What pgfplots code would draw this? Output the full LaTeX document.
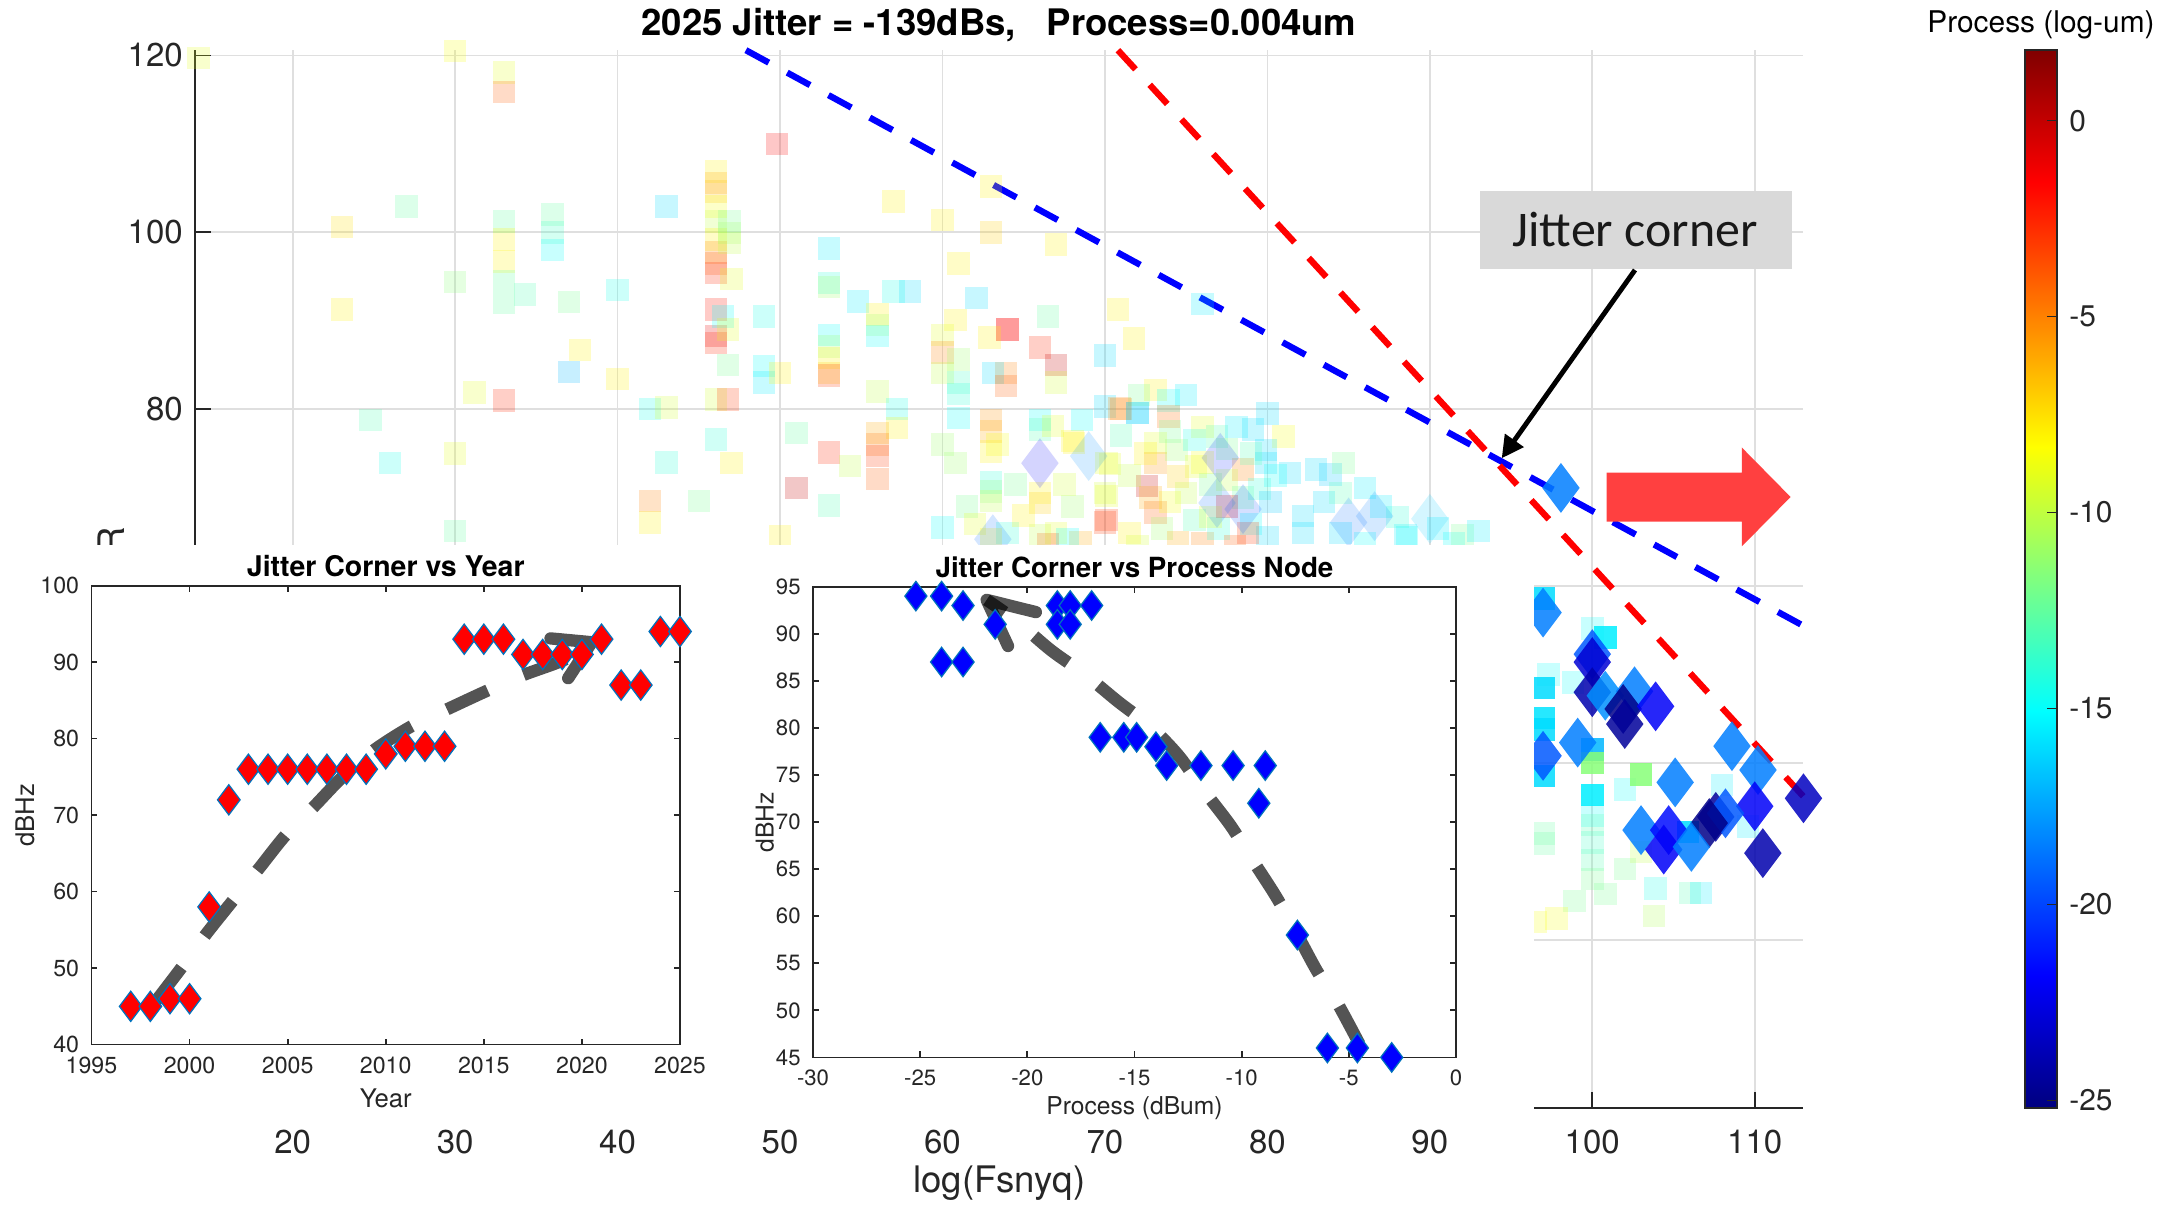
\documentclass[border=0pt]{standalone}
\usepackage{fontspec}
\setmainfont{TeX Gyre Heros}
\newfontfamily\calibri{Carlito}
\usepackage{pgfplots}
\pgfplotsset{compat=1.18}
\usetikzlibrary{arrows.meta}

\definecolor{axgray}{RGB}{38,38,38}
\definecolor{gridgray}{RGB}{223,223,223}
\definecolor{mkedge}{RGB}{0,114,189}
\definecolor{boxgray}{RGB}{217,217,217}
\definecolor{arrowred}{RGB}{255,64,64}

\newcommand{\fs}[1]{\fontsize{#1}{#1}\selectfont}

\pgfplotsset{
  /pgf/number format/assume math mode=true,
  every axis title shift=0pt,
  inset/.style={
    scale only axis, anchor=south west, clip=false,
    tick align=inside, major tick length=0.06cm,
    axis line style={draw=axgray, line width=0.5pt},
    tick style={draw=axgray, line width=0.5pt},
    tick label style={font=\fs{6.6}, text=axgray},
    label style={font=\fs{7.3}, text=axgray},
    title style={font=\bfseries\fs{8.1}, anchor=center},
  },
  faint/.style={scatter, only marks, point meta=explicit,
    scatter/use mapped color={draw=mapped color, fill=mapped color},
    mark options={fill opacity=0.22, draw opacity=0}},
  strong/.style={scatter, only marks, point meta=explicit,
    scatter/use mapped color={draw=mapped color, fill=mapped color},
    mark options={fill opacity=0.85, draw opacity=0}},
  trend/.style={black, opacity=0.67, line width=3.5pt, smooth},
}

\begin{document}
\begin{tikzpicture}
\useasboundingbox (0,0) rectangle (21.75,12.06);

% main scatter of all designs
\begin{axis}[
  at={(1.952cm,0.982cm)}, anchor=south west, scale only axis,
  width=16.083cm, height=10.576cm,
  xmin=14, xmax=113, ymin=1, ymax=120.6,
  axis x line*=bottom, axis y line*=left,
  axis line style={-, draw=axgray, line width=0.5pt},
  xtick={20,30,...,110}, ytick={20,40,...,120},
  tick align=inside, major tick length=0.16cm,
  tick style={draw=axgray, line width=0.5pt},
  grid=major, major grid style={draw=gridgray, line width=0.5pt},
  tick label style={font=\fs{9.4}, text=axgray},
  xticklabel style={yshift=-0.1cm},
  xlabel={log(Fsnyq)}, ylabel={SNDR},
  label style={font=\fs{10.4}, text=axgray},
  xlabel style={at={(axis description cs:0.5,-0.071)}, anchor=center},
  ylabel style={at={(axis description cs:-0.0525,0.5)}, anchor=center},
  clip=false,
  colormap/jet, point meta min=-25.2, point meta max=1.8,
  colorbar, colorbar shift/.style={xshift=2.215cm},
  colorbar style={at={(parent axis.north east)}, anchor=north west, width=0.32cm,
    ytick={-25,-20,...,0}, ytick pos=right, tick align=inside, major tick length=0.1cm,
    tick label style={font=\fs{8.5}, text=axgray}, xticklabel style={yshift=0cm},
    axis line style={draw=axgray, line width=0.5pt}, tick style={draw=axgray}},
]
\addplot[blue, line width=1.8pt, dash pattern=on 0.26cm off 0.21cm] coordinates {(47.9,120.6) (113,55.5)};
\addplot[red, line width=1.8pt, dash pattern=on 0.26cm off 0.21cm] coordinates {(70.8,120.6) (113,36.2)};

\addplot[faint, mark=square*, mark size=3.2pt] table[meta=c] {
x y c
14.2 119.7 -9
30.0 120.5 -8.5
33.0 118.1 -9
33.0 115.9 -4
27.0 102.9 -12.5
23.05 100.6 -7.5
33.0 101.2 -12.5
33.0 99.2 -8
33.0 96.7 -8
33.0 94.5 -12.5
33.0 92.0 -12.5
36.0 102.0 -12.5
36.0 100.0 -13.5
36.0 98.0 -15
43.0 102.9 -16
30.0 94.4 -11.5
34.3 93.0 -13
37.0 92.1 -12
40.0 93.5 -14.5
23.05 91.3 -8
37.7 86.7 -8
37.0 84.2 -17
40.0 83.4 -8
31.2 81.9 -9
33.0 81.0 -2.5
24.8 78.8 -13
42.0 80.0 -14.5
43.0 80.2 -9.5
26.0 73.9 -14.5
30.0 75.0 -9
43.0 74.0 -14
42.0 69.6 -5
42.0 67.2 -8
30.0 66.2 -12.5
49.8 110.0 -1.5
46.06 106.9 -8
46.06 105.6 -6
46.06 104.6 -6.5
46.06 102.9 -8.5
46.06 101.2 -10
46.06 99.2 -8
46.06 97.7 -5
46.06 96.5 -4
46.06 95.4 -2.5
46.06 91.3 -2
46.06 88.3 -1
46.06 87.5 -2.5
46.06 81.1 -9.5
46.06 76.6 -14
46.9 101.2 -12
46.9 99.9 -11
46.9 98.8 -10
47.0 94.7 -9
46.5 90.5 -15
46.8 89.0 -9
46.8 85.0 -12
46.8 81.1 -3
47.0 73.9 -8
53.0 98.2 -15.5
53.0 94.3 -14
53.0 93.8 -11
54.8 92.2 -15.5
49.0 90.5 -14.5
57.0 103.5 -8
57.0 93.3 -14.5
58.0 93.3 -16
60.0 101.4 -8
63.0 105.2 -8
63.0 100.0 -7
67.0 98.6 -8
61.0 96.5 -8
62.1 92.6 -16
56.0 90.7 -8
56.0 89.5 -11
56.0 88.3 -15
53.0 88.4 -15
53.0 87.1 -11
53.0 85.8 -8
53.0 84.1 -7
53.0 83.8 -3
49.0 84.9 -15
49.0 83.0 -15.5
50.0 84.1 -8
60.8 90.1 -8
60.0 88.4 -9
60.0 86.4 -5
60.0 84.1 -10
61.0 85.6 -11
61.0 83.0 -13.5
61.0 81.7 -14
64.0 89.0 -1.5
64.0 89.0 -1.5
62.9 88.1 -8
66.0 87.0 -2.5
67.0 85.0 0
67.0 83.0 -9.5
66.5 90.5 -12.5
70.8 91.3 -8
71.8 88.0 -8
70.0 86.1 -16
63.9 84.1 -5
63.1 84.1 -16
63.9 82.6 -4
56.0 82.0 -10
57.2 80.0 -14.5
57.2 77.9 -8
56.0 77.3 -6
56.0 76.0 -4.5
56.0 74.7 -3
56.0 72.1 -4
51.0 77.3 -12.5
53.0 75.1 -2.5
54.3 73.6 -10
51.0 71.1 0
53.0 69.1 -13
45.0 69.6 -12
50.0 65.6 -8
61.0 79.0 -15
60.0 76.0 -11
60.8 73.9 -11
63.0 78.8 -5.5
63.0 77.5 -6
63.4 76.0 -8.5
63.0 75.2 -8
63.0 71.7 -14
63.0 70.7 -11.5
63.0 69.6 -10
60.0 66.6 -15
66.0 78.8 -15
66.0 77.7 -13
66.8 78.1 -9
66.0 70.5 -8
66.0 69.4 -7
70.0 80.3 -16
70.9 80.1 -5
72.0 79.6 -15.5
68.1 76.2 -8
70.3 73.8 -9
70.0 70.5 -9.5
70.0 67.2 -3
76.0 91.9 -15.5
73.1 82.2 -8
72.1 81.6 -12
75.0 81.6 -15.5
73.9 81.0 -15
71.0 80.0 -5
72.0 79.6 -17
73.9 79.2 -4.5
68.6 78.8 -15
68.0 76.4 -8
76.0 78.0 -9
76.9 76.9 -13
78.1 78.0 -15.5
79.1 77.7 -16
80.0 79.5 -16
81.0 76.9 -8.5
73.1 76.2 -9
73.1 73.9 -5.5
72.6 71.3 0
73.1 68.3 -4
74.4 75.4 -11
74.5 72.4 -7
75.6 73.5 -9
78.5 73.2 -5
79.9 73.9 -16
79.9 75.4 -16
70.1 73.9 -9
70.1 70.2 -9
70.1 67.5 -3
81.4 72.8 -16
83.0 73.2 -16
83.9 72.6 -16.5
84.7 73.9 -12
86.0 71.1 -15.5
82.2 67.9 -16
82.2 66.0 -16
88.5 65.7 -15.5
71.5 66.0 -8
72.0 64.5 -9.5
73.5 66.5 -11
74.0 69.5 -8.5
74.5 65.0 -6
75.0 70.5 -10
75.5 67.5 -13
76.0 64.8 -5
76.5 71.5 -12
77.0 66.5 -14
77.5 72.0 -10
78.0 64.5 -4
78.5 70.0 -12.5
79.0 67.0 -15
79.5 71.0 -14
80.0 65.5 -16
80.2 69.5 -16.5
80.5 72.5 -15
79.0 75.0 -13
77.5 75.5 -12
76.0 74.0 -8.5
74.0 77.5 -12
72.5 75.0 -8
71.0 77.0 -13
71.5 72.5 -10
72.8 70.0 -6
75.5 76.5 -14.5
77.5 69.0 -1
78.8 66.0 -3
76.5 67.8 -9
61.5 69.0 -12
62.0 67.0 -9
64.0 66.0 -14
65.0 68.0 -8
67.0 66.0 -9
68.0 69.0 -11
68.5 65.0 -6
66.5 64.7 -3
64.5 71.5 -12
67.5 71.5 -9.5
63.0 65.3 -8
66.0 65.7 -10
67.7 65.3 -15
83.5 69.5 -16
84.5 66.0 -16
86.0 64.8 -15
87.0 69.0 -15.5
88.0 67.8 -14
90.5 66.5 -15.5
91.5 64.8 -15
92.0 65.7 -12
93.0 66.2 -15.5
88.6 65.5 -15
84.5 70.5 -13
100.0 55.2 -15
97.3 50.0 -15
98.8 49.1 -15
102.0 37.0 -15
108.0 37.5 -15.5
100.0 34.0 -15
97.0 32.0 -12.5
97.0 30.9 -12.5
109.6 32.8 -15.5
100.0 33.0 -13
100.0 31.0 -13.5
100.0 29.0 -13
100.0 26.9 -12
100.8 25.2 -12
98.9 24.4 -12
97.8 22.4 -8.5
96.5 22.0 -8.5
102.0 28.0 -12
103.9 25.8 -14.5
103.8 22.7 -10.5
106.0 25.3 -13
106.7 25.3 -15.5
103.0 29.9 -10
};
\addplot[scatter, only marks, point meta=explicit,
  scatter/use mapped color={draw=mapped color, fill=mapped color},
  mark options={fill opacity=0.17, draw opacity=0},
  mark=diamond*, mark size=7.1pt] table[meta=c] {
x y c
66.0 73.9 -22
69.0 74.7 -18
63.1 65.3 -19
77.1 74.5 -21
78.5 68.7 -20
76.9 69.4 -19
85.0 67.2 -19
86.6 67.9 -18.5
90.0 67.6 -16.5
};
\addplot[strong, mark=square*, mark size=3.2pt] table[meta=c] {
x y c
97.0 58.6 -16
100.8 54.2 -15.5
97.0 48.5 -16
97.0 45.1 -15.8
97.0 43.8 -16
100.0 41.5 -17
100.0 40.0 -11.5
103.0 38.7 -11.5
100.0 36.4 -15.5
97.0 38.5 -16
105.9 32.2 -16
};
\addplot[strong, mark=diamond*, mark size=7.1pt] table[meta=c] {
x y c
98.07 71.1 -18.5
96.97 57.0 -18.5
100.0 52.3 -19.5
100.0 51.4 -23
100.0 48.0 -24
100.8 47.6 -18
102.6 48.1 -18.5
101.9 46.1 -25
102.0 44.4 -24.5
103.9 46.4 -22
99.1 42.3 -18.5
96.97 40.8 -19.5
105.1 37.8 -18.5
108.6 41.9 -18.5
110.2 39.2 -18.5
113.0 36.0 -23.5
110.0 35.1 -22
107.6 33.9 -24.5
108.2 34.3 -19.5
107.2 33.2 -25
103.0 32.4 -18.5
104.7 32.4 -21.5
104.4 30.2 -22
106.1 30.5 -18.5
110.5 29.8 -24
};
\end{axis}

% white panel behind the two insets
\fill[white] (0,0.88) rectangle (15.34,6.61);

% inset: jitter corner vs year
\begin{axis}[inset,
  at={(0.915cm,1.614cm)}, width=5.885cm, height=4.59cm,
  xmin=1995, xmax=2025, ymin=40, ymax=100,
  xtick={1995,2000,...,2025}, ytick={40,50,...,100},
  xticklabel style={/pgf/number format/1000 sep={}},
  title={Jitter Corner vs Year}, title style={at={(0.5,1.0425)}},
  xlabel={Year}, ylabel={dBHz},
  xlabel style={at={(axis description cs:0.5,-0.1176)}, anchor=center},
  ylabel style={at={(axis description cs:-0.113,0.5)}, anchor=center},
]
\addplot[only marks, mark=diamond*, mark size=4.3pt,
  mark options={fill=red, draw=mkedge, line width=0.35pt}] coordinates {
(1997,45) (1998,45) (1999,46) (2000,46) (2001,58) (2002,72) (2003,76) (2004,76)
(2005,76) (2006,76) (2007,76) (2008,76) (2009,76) (2010,78) (2011,79) (2012,79)
(2013,79) (2014,93) (2015,93) (2016,93) (2017,91) (2018,91) (2019,91) (2020,91)
(2021,93) (2022,87) (2023,87) (2024,94) (2025,94)};
\addplot[trend, dash pattern=on 0.45cm off 0.39cm] coordinates {
(1998.2,45.4) (1999.6,50.1) (2000.8,54.3) (2002.2,58.8) (2003.5,62.9) (2004.9,67.4)
(2006.3,71.0) (2007.8,75.0) (2009.4,78.5) (2011.3,81.6) (2013.1,83.8) (2015.2,86.3)
(2017.0,88.3) (2019.1,90.3) (2020.5,92.5)};
\addplot[black, opacity=0.67, line width=3.5pt, line cap=round, line join=round] coordinates {
(2018.4,93.1) (2020.5,92.6) (2019.3,87.9)};
\end{axis}

% inset: jitter corner vs process node
\begin{axis}[inset,
  at={(8.13cm,1.486cm)}, width=6.43cm, height=4.707cm,
  xmin=-30, xmax=0, ymin=45, ymax=95,
  xtick={-30,-25,...,0}, ytick={45,50,...,95},
  tick label style={font=\fs{6.3}},
  label style={font=\fs{7.0}},
  title={Jitter Corner vs Process Node}, title style={at={(0.5,1.0406)}, font=\bfseries\fs{7.9}},
  xlabel={Process (dBum)}, ylabel={dBHz},
  xlabel style={at={(axis description cs:0.5,-0.1075)}, anchor=center},
  ylabel style={at={(axis description cs:-0.0747,0.5)}, anchor=center},
]
\addplot[only marks, mark=diamond*, mark size=4.2pt,
  mark options={fill=blue, draw=mkedge, line width=0.35pt}] coordinates {
(-25.2,94) (-24,94) (-23,93) (-21.5,91) (-24,87) (-23,87) (-18.6,93) (-18,93)
(-17,93) (-18.6,91) (-18,91) (-16.6,79) (-15.5,79) (-14.9,79) (-14,78) (-13.5,76)
(-11.9,76) (-10.4,76) (-8.9,76) (-9.2,72) (-7.4,58) (-6,46) (-4.6,46) (-3,45)};
\addplot[trend, dash pattern=on 0.43cm off 0.38cm] coordinates {
(-4.5,46.4) (-5.54,50.8) (-6.49,54.2) (-7.44,58.2) (-8.4,62.1) (-9.59,66.3)
(-10.54,69.7) (-11.85,73.6) (-12.92,77.0) (-14.23,80.1) (-15.77,82.8)
(-17.32,85.7) (-18.87,88.2) (-20.53,91.4) (-21.9,93.6)};
\addplot[black, opacity=0.67, line width=3.5pt, line cap=round, line join=round] coordinates {
(-19.6,92.3) (-21.9,93.6) (-20.9,88.7)};
\end{axis}

% annotations
\node[font=\bfseries\fs{10.4}, text=black] at (9.99,11.81) {2025 Jitter = -139dBs,\ \ \ Process=0.004um};
\node[font=\fs{8.5}, text=black] at (20.41,11.81) {Process (log-um)};
\fill[boxgray] (14.803,9.374) rectangle (17.92,10.15);
\node[font=\calibri\fs{14.2}, text=black!90] at (16.35,9.76) {Jitter corner};
\draw[black, line width=1.4pt, -{Triangle[length=0.22cm, width=0.22cm]}] (16.35,9.36) -- (15.017,7.477);
\fill[arrowred] (16.067,7.333) -- (17.418,7.333) -- (17.418,7.585) -- (17.906,7.09)
  -- (17.418,6.596) -- (17.418,6.843) -- (16.067,6.843) -- cycle;
\end{tikzpicture}
\end{document}
